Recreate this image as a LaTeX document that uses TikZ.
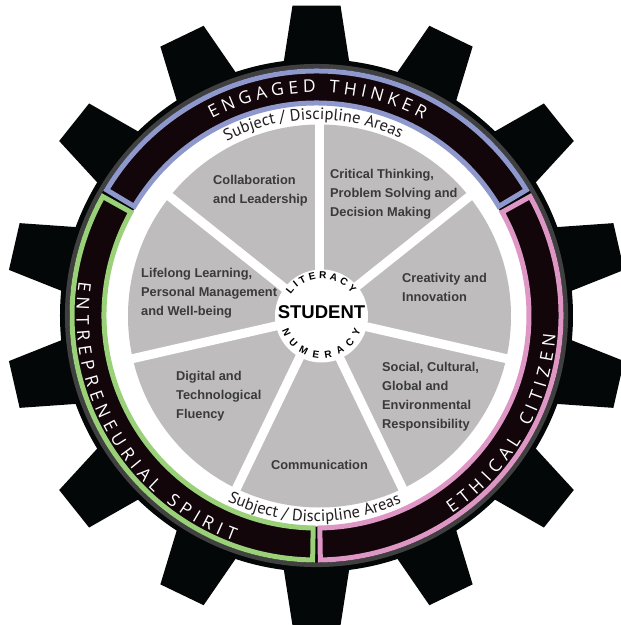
\documentclass[tikz,border=0pt]{standalone}
\usepackage{fontspec}
\setmainfont{Liberation Sans}
\newfontfamily\ringfont{Open Sans}
\newfontfamily\subjfont{PT Sans}
\usetikzlibrary{decorations.text}
\definecolor{segblue}{RGB}{143,152,204}
\definecolor{seggreen}{RGB}{153,208,120}
\definecolor{segpink}{RGB}{222,150,196}
\definecolor{bandblack}{RGB}{18,6,10}
\definecolor{gearblack}{RGB}{4,7,7}
\definecolor{sectorgray}{RGB}{190,188,188}
\definecolor{labelgray}{RGB}{58,58,58}
\definecolor{rimgray}{RGB}{64,64,64}
\definecolor{subjcol}{RGB}{35,31,32}
\begin{document}
\begin{tikzpicture}[x=1pt,y=1pt,
  tooth/.style={fill=gearblack},
  segment/.style={fill=bandblack, line width=5pt, line join=miter},
  spoke/.style={draw=white, line width=9pt},
  sectorlabel/.style={font=\bfseries\fontsize{12.8}{19}\selectfont, text=labelgray, align=left, inner sep=0pt, anchor=west},
]
\useasboundingbox (-316.5,-309.5) rectangle (304.5,315.5);
\clip (-316.5,-309.5) rectangle (304.5,315.5);
% gear teeth
\foreach \k in {0,...,13}{
  \fill[tooth, rotate=90+\k*360/14] (220,-38) -- (310,-24) -- (310,24) -- (220,38) -- cycle;
}
% rim
\fill[gearblack] (0,0) circle[radius=256.5];
\draw[rimgray, line width=4.5pt] (0,0) circle[radius=249.3];
\fill[white] (0,0) circle[radius=211];
% coloured segments of the ring
\foreach \sa/\sb/\sc in {30/150/segblue, 150/270/seggreen, 270/390/segpink}{
  \draw[segment, draw=\sc] ({\sa+0.9}:212.5) arc[start angle={\sa+0.9}, end angle={\sb-0.9}, radius=212.5]
     -- ({\sb-0.9}:244.5) arc[start angle={\sb-0.9}, end angle={\sa+0.9}, radius=244.5] -- cycle;
}
% grey sectors and spokes
\fill[sectorgray] (3,-0.5) circle[radius=191.5];
\foreach \k in {0,...,6}{
  \draw[spoke] (3,-0.5) -- ++({90+\k*360/7}:200);
}
\fill[white] (5,-0.5) circle[radius=46.5];
% ring texts
\path[decorate, decoration={text along path,
   text={|\ringfont\fontsize{17.5}{17.5}\selectfont|ENGAGED THINKER},
   text color=white, text align={fit to path}}]
  (118:223) arc[start angle=118, end angle=61.5, radius=223];
\path[decorate, decoration={text along path,
   text={|\ringfont\fontsize{17.5}{17.5}\selectfont|ENTREPRENEURIAL SPIRIT},
   text color=white, text align={fit to path}}]
  (171.8:240) arc[start angle=171.8, end angle=249.8, radius=240];
\path[decorate, decoration={text along path,
   text={|\ringfont\fontsize{17.5}{17.5}\selectfont|ETHICAL CITIZEN},
   text color=white, text align={fit to path}}]
  (-55.7:240) arc[start angle=-55.7, end angle=-4.6, radius=240];
% subject / discipline texts
\path[decorate, decoration={text along path,
   text={|\subjfont\fontsize{16.5}{16.5}\selectfont|Subject / Discipline Areas},
   text color=subjcol, text align=center}]
  (121:196) arc[start angle=121, end angle=61, radius=196];
\path[decorate, decoration={text along path,
   text={|\subjfont\fontsize{16.5}{16.5}\selectfont|Subject / Discipline Areas},
   text color=subjcol, text align=center}]
  (239.4:206) arc[start angle=239.4, end angle=299.4, radius=206];
% literacy / numeracy
\path[decorate, decoration={text along path,
   text={|\bfseries\fontsize{10}{10}\selectfont|LITERACY},
   text color=black, text align={fit to path}}]
  ([shift={(5,-0.5)}]145.4:37.5) arc[start angle=145.4, end angle=36.2, radius=37.5];
\path[decorate, decoration={text along path,
   text={|\bfseries\fontsize{10}{10}\selectfont|NUMERACY},
   text color=black, text align={fit to path}}]
  ([shift={(5,-0.5)}]199.7:42) arc[start angle=199.7, end angle=339.8, radius=42];
\node[inner sep=0pt, font=\bfseries\fontsize{18.5}{18.5}\selectfont, text=black] (student) at (5,3) {STUDENT};
% sector labels
\node[sectorlabel] (collab) at (-103.5,125) {Collaboration\\and Leadership};
\node[sectorlabel] (critical) at (13.5,121.5) {Critical Thinking,\\Problem Solving and\\Decision Making};
\node[sectorlabel] (creat) at (85.5,28) {Creativity and\\Innovation};
\node[sectorlabel] (social) at (65.5,-81) {Social, Cultural,\\Global and\\Environmental\\Responsibility};
\node[sectorlabel, anchor=center] (comm) at (3,-149.5) {Communication};
\node[sectorlabel] (digital) at (-140.5,-80.5) {Digital and\\Technological\\Fluency};
\node[sectorlabel] (lifelong) at (-175.5,22) {Lifelong Learning,\\Personal Management\\and Well-being};
\end{tikzpicture}
\end{document}
